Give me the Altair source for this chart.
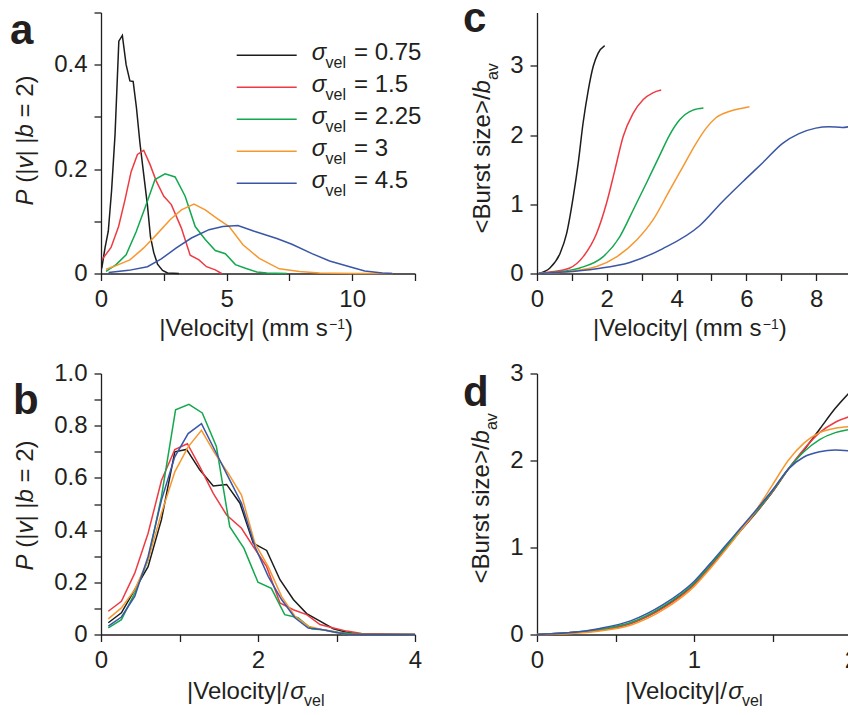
import altair as alt
import pandas as pd

FONT = "Liberation Sans"
INK = "#231f20"

SIGMA_LABELS = ["0.75", "1.5", "2.25", "3", "4.5"]
COLORS = ["#1c1c1c", "#ee3a43", "#13a84e", "#f7982f", "#3a56a6"]

# ---------------- panel a : P(|v| | b=2) vs |velocity| (mm/s)
a_v_075 = [0.03, 0.16, 0.29, 0.42, 0.56, 0.71, 0.85, 1.0, 1.15, 1.28, 1.41, 1.55, 1.7, 1.85, 1.97, 2.1, 2.25, 2.45, 2.65, 3.1]
a_p_075 = [0.01, 0.049, 0.081, 0.158, 0.267, 0.445, 0.456, 0.40, 0.369, 0.368, 0.318, 0.25, 0.19, 0.13, 0.07, 0.04, 0.018, 0.006, 0.001, 0.0]
a_v_15 = [0.05, 0.4, 0.7, 0.95, 1.2, 1.45, 1.7, 1.95, 2.2, 2.5, 2.8, 3.2, 3.55, 3.9, 4.2, 4.55, 4.8]
a_p_15 = [0.027, 0.05, 0.09, 0.14, 0.195, 0.228, 0.236, 0.209, 0.177, 0.148, 0.132, 0.087, 0.035, 0.026, 0.013, 0.007, 0.0]
a_v_225 = [0.2, 0.6, 1.0, 1.4, 1.8, 2.15, 2.55, 2.95, 3.35, 3.75, 4.15, 4.55, 4.95, 5.35, 5.75, 6.2, 6.6, 7.4]
a_p_225 = [0.004, 0.017, 0.036, 0.08, 0.132, 0.18, 0.191, 0.185, 0.148, 0.09, 0.065, 0.044, 0.038, 0.017, 0.01, 0.003, 0.001, 0.0]
a_v_3 = [0.2, 0.6, 1.15, 1.7, 2.2, 2.75, 3.2, 3.7, 4.15, 4.6, 5.1, 5.65, 6.3, 7.1, 7.9, 8.7, 10.0, 11.6]
a_p_3 = [0.008, 0.015, 0.026, 0.049, 0.074, 0.103, 0.122, 0.133, 0.122, 0.106, 0.09, 0.055, 0.029, 0.009, 0.004, 0.001, 0.0, 0.0]
a_v_45 = [0.3, 1.1, 1.85, 2.4, 3.0, 3.6, 4.3, 4.85, 5.45, 6.1, 7.0, 7.6, 8.4, 9.1, 9.9, 10.5, 11.2, 11.6]
a_p_45 = [0.002, 0.006, 0.013, 0.028, 0.049, 0.068, 0.084, 0.09, 0.092, 0.081, 0.067, 0.056, 0.038, 0.024, 0.013, 0.005, 0.001, 0.0]

# ---------------- panel b : P(|v| | b=2) vs |velocity|/sigma
b_u_075 = [0.093, 0.26, 0.43, 0.6, 0.77, 0.94, 1.09, 1.26, 1.43, 1.6, 1.77, 1.94, 2.11, 2.28, 2.45, 2.62, 2.79, 2.96, 3.13, 3.32, 4.0]
b_p_075 = [0.045, 0.083, 0.172, 0.26, 0.44, 0.70, 0.709, 0.63, 0.569, 0.575, 0.503, 0.35, 0.322, 0.21, 0.134, 0.08, 0.051, 0.022, 0.009, 0.0, 0.0]
b_u_15 = [0.093, 0.26, 0.43, 0.6, 0.77, 0.94, 1.1, 1.26, 1.43, 1.6, 1.79, 1.94, 2.11, 2.28, 2.45, 2.62, 2.79, 2.96, 3.13, 3.32, 4.0]
b_p_15 = [0.089, 0.127, 0.235, 0.388, 0.59, 0.709, 0.731, 0.642, 0.541, 0.458, 0.407, 0.337, 0.26, 0.121, 0.095, 0.076, 0.038, 0.025, 0.013, 0.004, 0.0]
b_u_225 = [0.093, 0.26, 0.43, 0.6, 0.77, 0.95, 1.12, 1.29, 1.47, 1.64, 1.82, 2.0, 2.17, 2.34, 2.51, 2.68, 2.85, 3.02, 3.19, 3.4, 4.0]
b_p_225 = [0.025, 0.057, 0.159, 0.286, 0.528, 0.861, 0.882, 0.849, 0.72, 0.413, 0.331, 0.2, 0.177, 0.076, 0.064, 0.022, 0.017, 0.009, 0.004, 0.0, 0.0]
b_u_3 = [0.093, 0.26, 0.43, 0.6, 0.77, 0.94, 1.11, 1.28, 1.45, 1.62, 1.79, 1.96, 2.13, 2.3, 2.47, 2.64, 2.81, 2.98, 3.15, 4.0]
b_p_3 = [0.06, 0.102, 0.172, 0.286, 0.465, 0.623, 0.719, 0.782, 0.694, 0.618, 0.534, 0.35, 0.26, 0.146, 0.07, 0.032, 0.019, 0.009, 0.0, 0.0]
b_u_45 = [0.093, 0.26, 0.43, 0.6, 0.77, 0.94, 1.11, 1.28, 1.45, 1.62, 1.79, 1.96, 2.13, 2.3, 2.47, 2.64, 2.81, 2.98, 3.15, 4.0]
b_p_45 = [0.032, 0.067, 0.146, 0.299, 0.515, 0.681, 0.77, 0.808, 0.706, 0.604, 0.503, 0.337, 0.223, 0.134, 0.064, 0.025, 0.019, 0.009, 0.0, 0.0]

# ---------------- panel c : <burst size>/b_av vs |velocity|
c_v_075 = [0.05, 0.37, 0.66, 0.85, 1.04, 1.18, 1.32, 1.47, 1.61, 1.75, 1.94]
c_b_075 = [0.0, 0.08, 0.29, 0.58, 1.11, 1.59, 2.17, 2.65, 2.99, 3.18, 3.29]
c_v_15 = [0.05, 0.37, 0.94, 1.32, 1.71, 1.99, 2.23, 2.47, 2.75, 3.04, 3.32, 3.56]
c_b_15 = [0.0, 0.02, 0.08, 0.24, 0.58, 1.01, 1.49, 1.98, 2.31, 2.51, 2.61, 2.65]
c_v_225 = [0.05, 0.56, 1.23, 1.89, 2.37, 2.75, 3.13, 3.51, 3.8, 4.09, 4.47, 4.77]
c_b_225 = [0.0, 0.02, 0.08, 0.24, 0.53, 0.91, 1.3, 1.7, 2.0, 2.22, 2.36, 2.39]
c_v_3 = [0.05, 0.75, 1.71, 2.28, 2.85, 3.32, 3.8, 4.18, 4.56, 4.85, 5.13, 5.51, 5.8, 6.09]
c_b_3 = [0.0, 0.02, 0.1, 0.24, 0.48, 0.77, 1.2, 1.54, 1.88, 2.1, 2.25, 2.34, 2.38, 2.41]
c_v_45 = [0.05, 0.75, 1.71, 2.66, 3.61, 4.66, 5.32, 5.99, 6.47, 7.04, 7.51, 7.99, 8.37, 8.75, 8.94]
c_b_45 = [0.0, 0.02, 0.07, 0.16, 0.36, 0.69, 1.04, 1.37, 1.6, 1.88, 2.02, 2.10, 2.12, 2.11, 2.12]

# ---------------- panel d : <burst size>/b_av vs |velocity|/sigma
d_u = [0.0, 0.2, 0.4, 0.6, 0.8, 1.0, 1.1, 1.2, 1.3, 1.4, 1.5, 1.6, 1.7, 1.8, 1.9, 2.0]
d_b_075 = [0.0, 0.02, 0.05, 0.13, 0.31, 0.58, 0.78, 0.99, 1.2, 1.41, 1.64, 1.9, 2.12, 2.36, 2.6, 2.8]
d_b_15 = [0.0, 0.02, 0.05, 0.13, 0.30, 0.57, 0.77, 0.98, 1.2, 1.41, 1.64, 1.9, 2.13, 2.32, 2.44, 2.51]
d_b_225 = [0.0, 0.02, 0.06, 0.14, 0.32, 0.59, 0.79, 1.0, 1.21, 1.42, 1.65, 1.9, 2.1, 2.24, 2.32, 2.36]
d_b_3 = [0.0, 0.01, 0.04, 0.11, 0.28, 0.55, 0.75, 0.97, 1.2, 1.44, 1.72, 2.0, 2.2, 2.32, 2.37, 2.39]
d_b_45 = [0.0, 0.02, 0.07, 0.16, 0.34, 0.61, 0.81, 1.02, 1.23, 1.44, 1.66, 1.9, 2.04, 2.1, 2.12, 2.11]


def long_df(xs_list, ys_list):
    rows = []
    for lab, xs, ys in zip(SIGMA_LABELS, xs_list, ys_list):
        for i, (x, y) in enumerate(zip(xs, ys)):
            rows.append({"s": lab, "x": x, "y": y, "i": i})
    return pd.DataFrame(rows)


df_a = long_df([a_v_075, a_v_15, a_v_225, a_v_3, a_v_45], [a_p_075, a_p_15, a_p_225, a_p_3, a_p_45])
df_b = long_df([b_u_075, b_u_15, b_u_225, b_u_3, b_u_45], [b_p_075, b_p_15, b_p_225, b_p_3, b_p_45])
df_c = long_df([c_v_075, c_v_15, c_v_225, c_v_3, c_v_45], [c_b_075, c_b_15, c_b_225, c_b_3, c_b_45])
df_d = long_df([d_u] * 5, [d_b_075, d_b_15, d_b_225, d_b_3, d_b_45])

# ---------------- text helpers (layout only)
CW = {" ": .278, "(": .333, ")": .333, "|": .26, "<": .584, ">": .584, "/": .278, "=": .584,
      ".": .278, "\u2212": .584, "B": .667, "P": .667, "V": .667, "a": .556, "b": .556,
      "c": .5, "e": .556, "i": .222, "l": .222, "m": .833, "o": .556, "r": .333, "s": .5,
      "t": .278, "u": .556, "v": .5, "y": .5, "z": .5, "\u03c3": .58}


def tw(s, size):
    return sum(CW.get(ch, .556) for ch in s) * size


def txt(text, x, y, size=24, italic=False, bold=False, angle=None):
    props = dict(align="left", baseline="alphabetic", fontSize=size, font=FONT, color=INK)
    if italic:
        props["fontStyle"] = "italic"
    if bold:
        props["fontWeight"] = "bold"
    if angle is not None:
        props["angle"] = angle
    return alt.Chart(pd.DataFrame({"t": [text]})).mark_text(**props).encode(
        x=alt.value(x), y=alt.value(y), text="t:N")


def _split(text):
    core = text.strip(" ")
    lead = len(text) - len(text.lstrip(" "))
    return lead, core


def hrich(pieces, x0, y0):
    """pieces: (text, size, italic, dy); leading spaces become offsets"""
    out = []
    x = x0
    for text, size, it, dy in pieces:
        lead, core = _split(text)
        out.append(txt(core, x + tw(" " * lead, size), y0 + dy, size, it))
        x += tw(text, size)
    return out


def vrich(pieces, bx, y0):
    """rotated 270: text runs upward from y0, baseline at bx; dx shifts (subscript -> +)"""
    out = []
    y = y0
    for text, size, it, dx in pieces:
        lead, core = _split(text)
        out.append(txt(core, bx + dx, y - tw(" " * lead, size), size, it, angle=270))
        y -= tw(text, size)
    return out


def lexpr(vals, labs):
    e = "''"
    for v, l in reversed(list(zip(vals, labs))):
        e = f"datum.value == {v!r} ? '{l}' : ({e})"
    return e


AX = dict(title=None, grid=False, tickSize=7, tickWidth=1.3, tickColor=INK, domainColor=INK,
          domainWidth=1.3, labelFont=FONT, labelFontSize=24, labelColor=INK, labelFlush=False,
          labelOverlap=False, labelBound=False, labelPadding=7)

W, H = 314, 261


def lines(df, xdom, xvals, xlabs, ydom, yvals, ylabs, interp):
    return alt.Chart(df).mark_line(strokeWidth=1.5, interpolate=interp).encode(
        x=alt.X("x:Q", scale=alt.Scale(domain=xdom, nice=False, zero=False),
                axis=alt.Axis(values=xvals, labelExpr=lexpr(xvals, xlabs), **AX)),
        y=alt.Y("y:Q", scale=alt.Scale(domain=ydom, nice=False, zero=False),
                axis=alt.Axis(values=yvals, labelExpr=lexpr(yvals, ylabs), **AX)),
        color=alt.Color("s:N", scale=alt.Scale(domain=SIGMA_LABELS, range=COLORS), legend=None),
        order=alt.Order("i:Q"),
    )


SUB = 16
P_TITLE = [("P", 24, True, 0), (" (|", 24, False, 0), ("v", 24, True, 0), ("| |", 24, False, 0),
           ("b", 24, True, 0), (" = 2)", 24, False, 0)]
B_TITLE = [("<Burst size>/", 24, False, 0), ("b", 24, True, 0), ("av", SUB, False, 7.5)]
V_MM = [("|Velocity| (mm s", 24, False, 0), ("\u22121", 14, False, -7), (")", 24, False, 0)]
V_SIG = [("|Velocity|/", 24, False, 0), ("\u03c3", 24, True, 0), ("vel", SUB, False, 7)]

# ---- panel a
la = lines(df_a, [0, 12.5], [0, 2.5, 5, 7.5, 10, 12.5], ["0", "", "5", "", "10", ""],
           [0, 0.5], [0, 0.1, 0.2, 0.3, 0.4, 0.5], ["0", "", "0.2", "", "0.4", ""], "linear")
leg_df = pd.DataFrame({"s": SIGMA_LABELS, "r": list(range(5))})
leg_lines = alt.Chart(leg_df).transform_calculate(ly="42.7 + 32 * datum.r").mark_rule(strokeWidth=1.6).encode(
    x=alt.value(135.7), x2=alt.value(195.7), y=alt.Y("ly:Q", scale=None),
    color=alt.Color("s:N", scale=alt.Scale(domain=SIGMA_LABELS, range=COLORS), legend=None))
leg_txt = []
for r, lab in enumerate(SIGMA_LABELS):
    L = 42.7 + 32 * r
    leg_txt += [txt("\u03c3", 210.7, L + 5, 24, True),
                txt("vel", 210.7 + tw("\u03c3", 24), L + 12.5, SUB),
                txt("= " + lab, 253, L + 5, 24)]
a_texts = ([txt("a", -91, 31, 42, bold=True)] + vrich(P_TITLE, -68, 193) + hrich(V_MM, 58.3, 323))
pa = alt.layer(la, leg_lines, *leg_txt, *a_texts).properties(width=W, height=H)

# ---- panel c
lc = lines(df_c, [0, 9], list(range(10)), ["0", "", "2", "", "4", "", "6", "", "8", ""],
           [0, 3.77], [0, 1, 2, 3], ["0", "1", "2", "3"], "monotone")
c_texts = ([txt("c", -74, 19.7, 42, bold=True)] + vrich(B_TITLE, -47, 221) + hrich(V_MM, 56, 323))
pc = alt.layer(lc, *c_texts).properties(width=W, height=H)

# ---- panel b
lb = lines(df_b, [0, 4], [0, 1, 2, 3, 4], ["0", "", "2", "", "4"],
           [0, 1], [0, 0.1, 0.2, 0.3, 0.4, 0.5, 0.6, 0.7, 0.8, 0.9, 1.0],
           ["0", "", "0.2", "", "0.4", "", "0.6", "", "0.8", "", "1.0"], "linear")
b_texts = ([txt("b", -88, 40.3, 42, bold=True)] + vrich(P_TITLE, -68, 197) + hrich(V_SIG, 86, 325.5))
pb = alt.layer(lb, *b_texts).properties(width=W, height=H)

# ---- panel d
ld = lines(df_d, [0, 2], [0, 0.5, 1, 1.5, 2], ["0", "", "1", "", "2"],
           [0, 3], [0, 1, 2, 3], ["0", "1", "2", "3"], "monotone")
d_texts = ([txt("d", -74, 32, 42, bold=True)] + vrich(B_TITLE, -48, 210) + hrich(V_SIG, 88, 325.5))
pd_ = alt.layer(ld, *d_texts).properties(width=W, height=H)

chart = alt.concat(pa, pc, pb, pd_, columns=2, spacing={"row": 100, "column": 122}, bounds="flush").properties(
    padding={"left": 2, "top": -10.5, "right": -10, "bottom": -2}
).configure_view(stroke=None)

chart.save("out.html", embed_options={"renderer": "svg", "actions": False})
